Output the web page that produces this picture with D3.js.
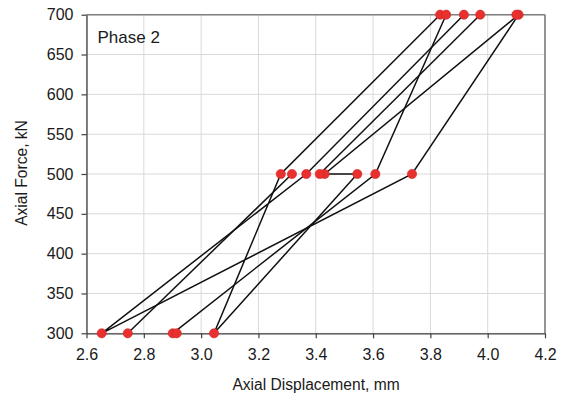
<!DOCTYPE html>
<html>
<head>
<meta charset="utf-8">
<script src="https://cdn.jsdelivr.net/npm/d3@7"></script>
<style>
  html, body { margin: 0; padding: 0; background: #fff; }
  svg { display: block; font-family: "Liberation Sans", Arial, sans-serif; }
</style>
</head>
<body>
<svg id="chart" width="570" height="402"></svg>
<script>
// ---- data ----
const xTicks = [2.6, 2.8, 3.0, 3.2, 3.4, 3.6, 3.8, 4.0, 4.2];
const yTicks = [300, 350, 400, 450, 500, 550, 600, 650, 700];

// connected runs of points (displacement in mm, force in kN)
const runA_disp  = [3.834, 3.278, 3.045, 3.545, 3.431, 4.108, 3.736, 2.653, 3.367, 3.917];
const runA_force = [700,   500,   300,   500,   500,   700,   500,   300,   500,   700];
const runB_disp  = [3.855, 3.608, 2.901];
const runB_force = [700,   500,   300];
const runC_disp  = [2.744, 3.317];
const runC_force = [300,   500];
const runD_disp  = [3.414, 3.974];
const runD_force = [500,   700];
const single_disp  = [2.915, 4.100];
const single_force = [300,   700];

const panelLabel = "Phase 2";
const xTitle = "Axial Displacement, mm";
const yTitle = "Axial Force, kN";

// ---- layout ----
const L = 86.5, R = 545, T = 14.7, B = 333.3;
const svg = d3.select("#chart");

const x = d3.scaleLinear().domain([2.6, 4.2]).range([L, R]);
const y = d3.scaleLinear().domain([300, 700]).range([B, T]);

// gridlines
svg.append("g").selectAll("line.v").data(xTicks).join("line")
  .attr("x1", d => x(d)).attr("x2", d => x(d)).attr("y1", T).attr("y2", B)
  .attr("stroke", "#d9d9d9").attr("stroke-width", 1);
svg.append("g").selectAll("line.h").data(yTicks).join("line")
  .attr("x1", L).attr("x2", R).attr("y1", d => y(d)).attr("y2", d => y(d))
  .attr("stroke", "#d9d9d9").attr("stroke-width", 1);

// top & right border
svg.append("line").attr("x1", L).attr("x2", R).attr("y1", T).attr("y2", T)
  .attr("stroke", "#7f7f7f").attr("stroke-width", 1.6);
svg.append("line").attr("x1", R).attr("x2", R).attr("y1", T).attr("y2", B)
  .attr("stroke", "#7f7f7f").attr("stroke-width", 1.6);

// axes
const xAxis = d3.axisBottom(x).tickValues(xTicks).tickFormat(d3.format(".1f"))
  .tickSize(5).tickSizeOuter(0).tickPadding(10);
const yAxis = d3.axisLeft(y).tickValues(yTicks).tickFormat(d3.format("d"))
  .tickSize(5).tickSizeOuter(0).tickPadding(8);

const gx = svg.append("g").attr("transform", `translate(0,${B})`).call(xAxis);
const gy = svg.append("g").attr("transform", `translate(${L},0)`).call(yAxis);
[gx, gy].forEach(g => {
  g.select(".domain").attr("stroke", "#404040").attr("stroke-width", 1.3);
  g.selectAll(".tick line").attr("stroke", "#404040").attr("stroke-width", 1.2);
  g.selectAll(".tick text").attr("fill", "#1a1a1a")
    .style("font-size", "16px").style("font-family", '"Liberation Sans", Arial, sans-serif');
});

// runs
const runs = [
  [runA_disp, runA_force],
  [runB_disp, runB_force],
  [runC_disp, runC_force],
  [runD_disp, runD_force]
].map(([dx, fy]) => dx.map((d, i) => ({ d, f: fy[i] })));

const line = d3.line().x(p => x(p.d)).y(p => y(p.f));
svg.append("g").selectAll("path").data(runs).join("path")
  .attr("d", line).attr("fill", "none")
  .attr("stroke", "#111").attr("stroke-width", 1.5);

const allPts = runs.flat().concat(single_disp.map((d, i) => ({ d, f: single_force[i] })));
svg.append("g").selectAll("circle").data(allPts).join("circle")
  .attr("cx", p => x(p.d)).attr("cy", p => y(p.f)).attr("r", 4.6)
  .attr("fill", "#e8302f").attr("stroke", "#d42222").attr("stroke-width", 0.6);

// texts
svg.append("text").attr("x", 97.5).attr("y", 42.5)
  .style("font-size", "17px").attr("fill", "#1a1a1a").text(panelLabel);

svg.append("text").attr("x", 316).attr("y", 390)
  .attr("text-anchor", "middle").style("font-size", "15.6px").attr("fill", "#1a1a1a").text(xTitle);

svg.append("text").attr("transform", `translate(27,${(T + B) / 2 - 1}) rotate(-90)`)
  .attr("text-anchor", "middle").style("font-size", "15.6px").attr("fill", "#1a1a1a").text(yTitle);
</script>
</body>
</html>
